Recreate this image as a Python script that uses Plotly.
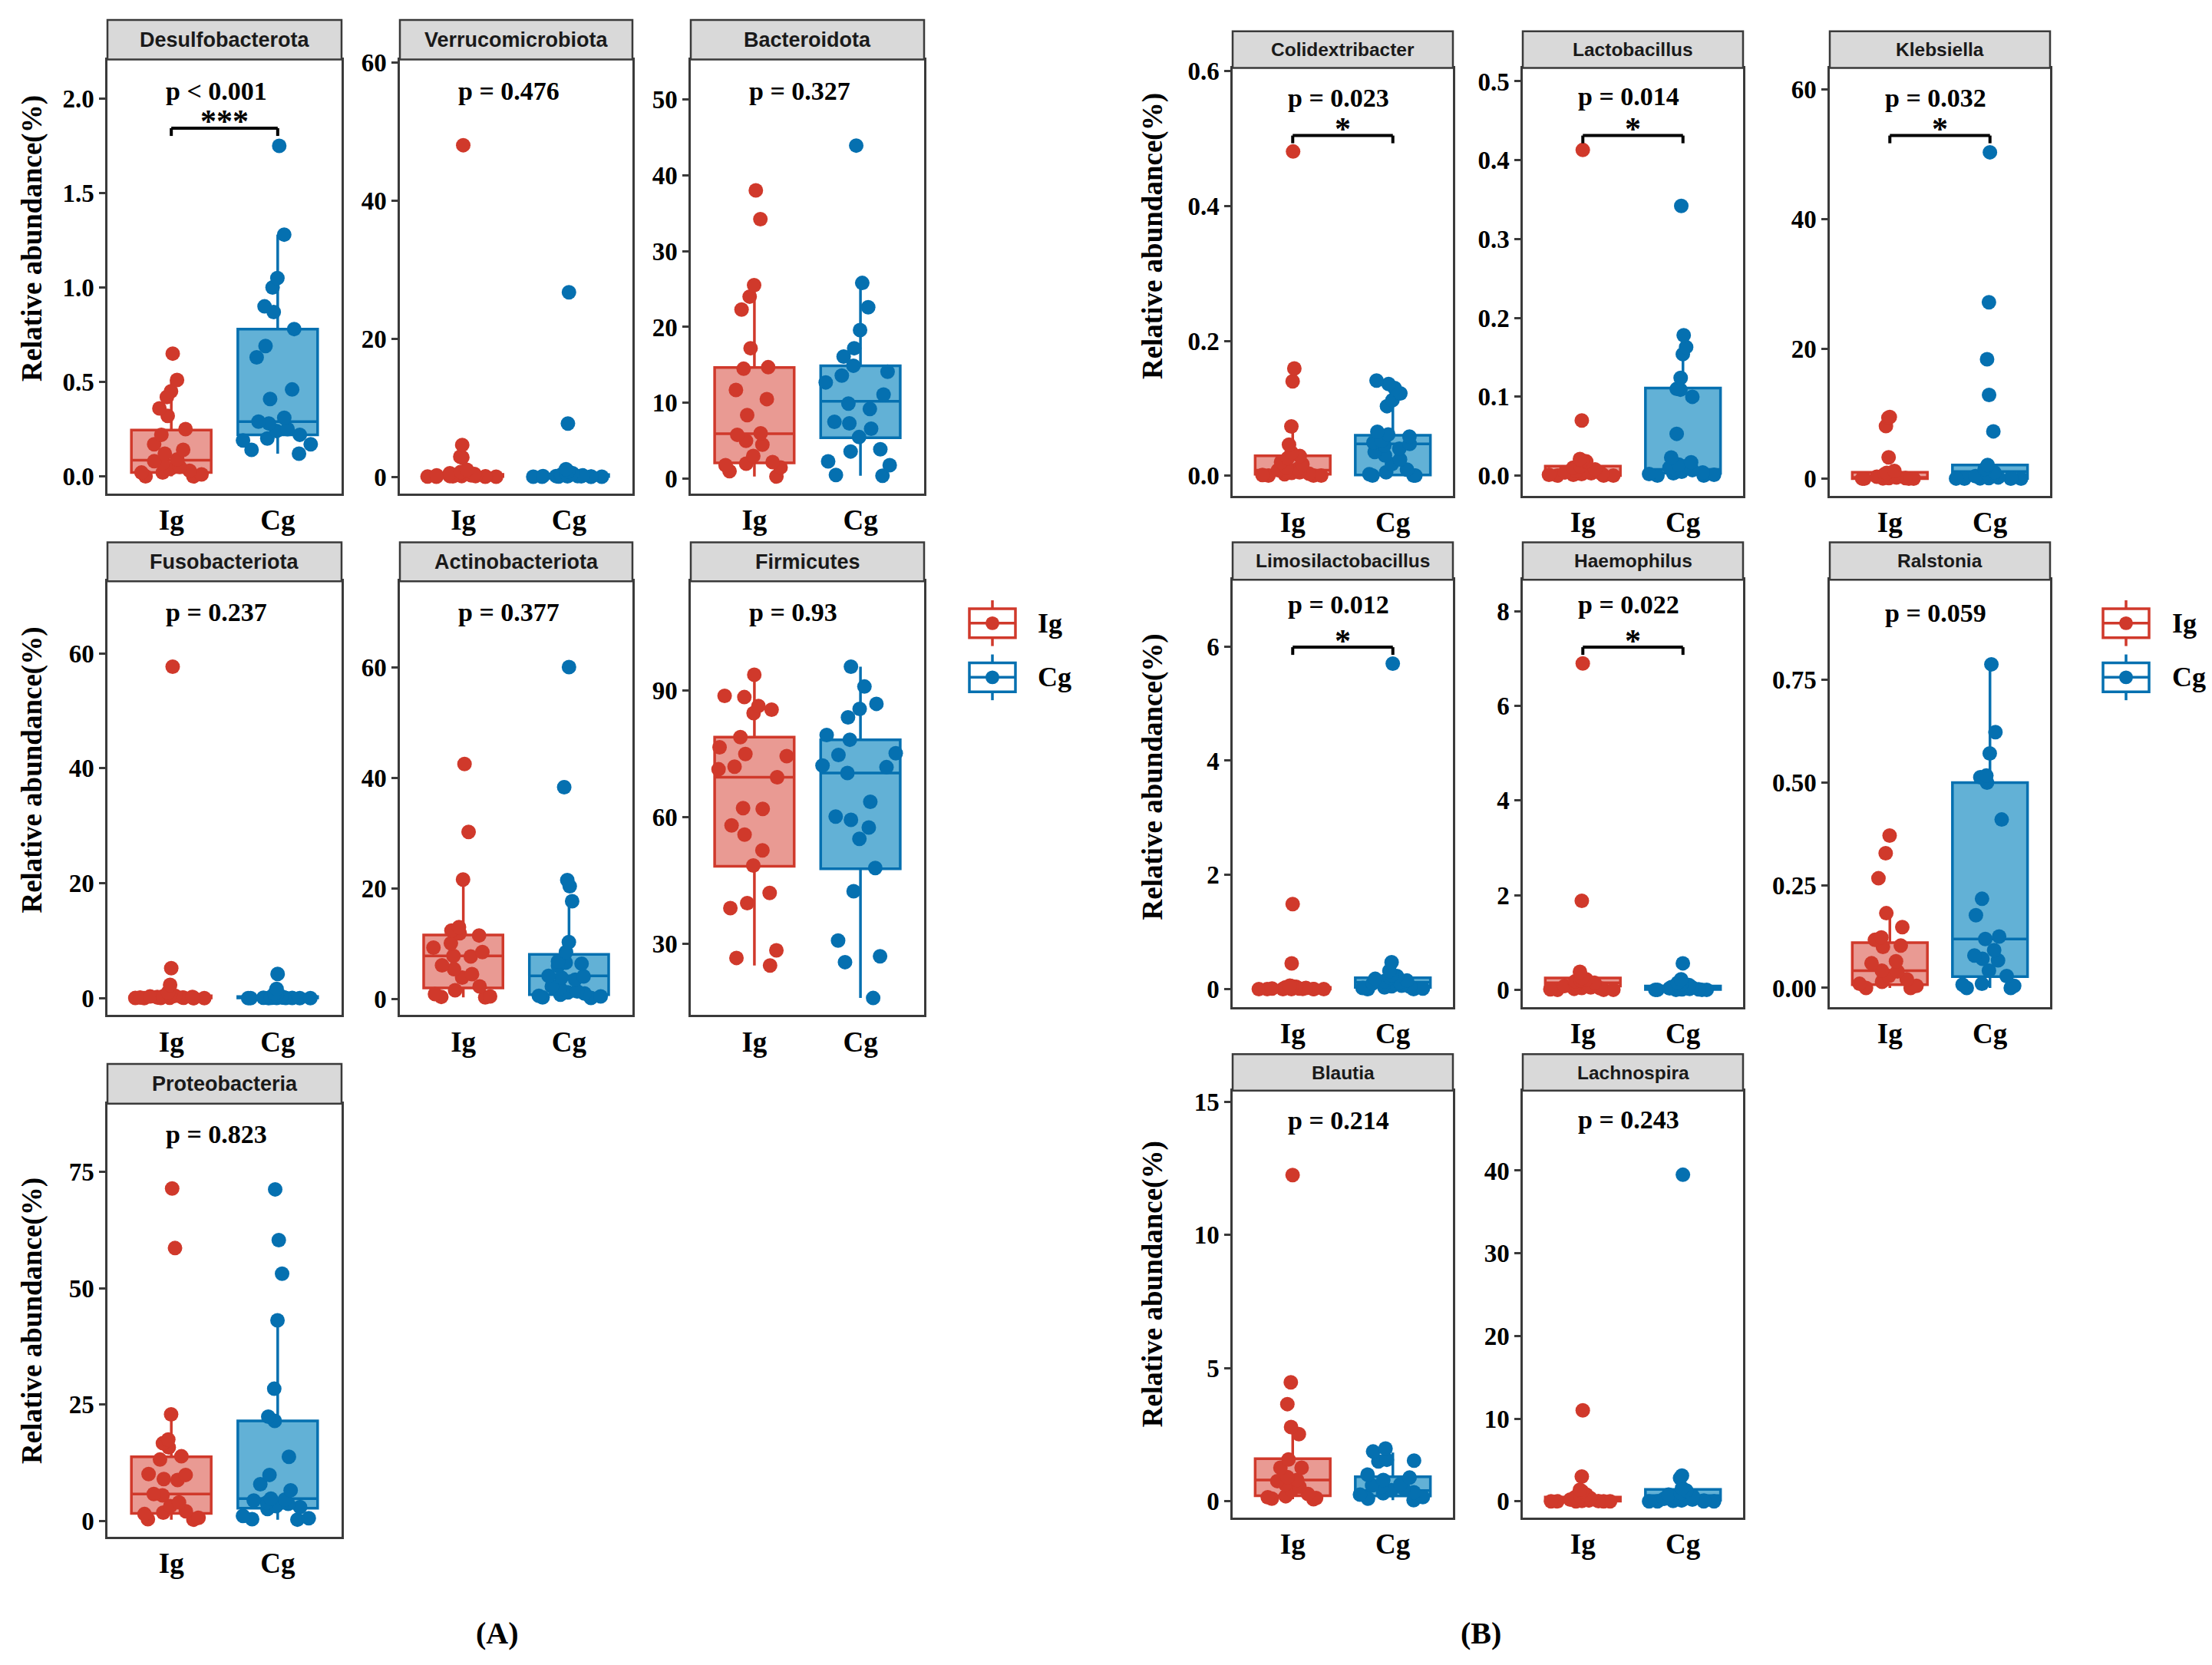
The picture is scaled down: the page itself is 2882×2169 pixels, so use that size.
import plotly.graph_objects as go

W, H = 2882, 2169

GROUPS = ["Ig", "Cg"]

# ---- panel A : phylum level (relative abundance, %) ----
desulfo_ig = [0.65, 0.51, 0.45, 0.42, 0.36, 0.32, 0.25, 0.22, 0.17, 0.14, 0.12, 0.09, 0.08, 0.07, 0.05, 0.04, 0.03, 0.02, 0.02, 0.01, 0.0, 0.0]
desulfo_cg = [1.75, 1.28, 1.05, 1.00, 0.90, 0.87, 0.78, 0.69, 0.63, 0.46, 0.41, 0.31, 0.29, 0.28, 0.25, 0.24, 0.22, 0.20, 0.19, 0.17, 0.14, 0.12]
verruco_ig = [48.0, 4.6, 2.9, 2.8, 1.0, 0.7, 0.5, 0.4, 0.3, 0.2, 0.2, 0.1, 0.1, 0.1, 0.05, 0.05, 0.02, 0.01, 0.0, 0.0]
verruco_cg = [26.7, 7.7, 1.1, 0.8, 0.5, 0.4, 0.3, 0.2, 0.2, 0.1, 0.1, 0.1, 0.05, 0.05, 0.03, 0.02, 0.01, 0.0, 0.0, 0.0]
bactero_ig = [38.0, 34.2, 25.5, 24.0, 22.3, 17.2, 14.7, 14.5, 11.7, 10.5, 8.4, 6.0, 5.8, 5.0, 4.5, 3.0, 2.2, 2.0, 1.8, 1.5, 1.0, 0.3]
bactero_cg = [43.9, 25.8, 22.6, 19.6, 17.2, 16.1, 14.9, 14.1, 13.6, 12.7, 11.1, 9.9, 9.2, 7.5, 7.3, 6.6, 5.5, 3.9, 3.6, 2.3, 1.8, 0.5, 0.4]
fuso_ig = [57.7, 5.2, 2.3, 1.0, 0.6, 0.4, 0.3, 0.3, 0.2, 0.2, 0.1, 0.1, 0.1, 0.05, 0.05, 0.03, 0.02, 0.01, 0.0, 0.0, 0.0]
fuso_cg = [4.2, 1.6, 0.8, 0.5, 0.3, 0.2, 0.2, 0.1, 0.1, 0.1, 0.05, 0.05, 0.03, 0.02, 0.01, 0.0, 0.0, 0.0, 0.0, 0.0]
actino_ig = [42.5, 30.2, 21.6, 13.0, 12.4, 11.9, 11.5, 10.1, 9.3, 8.5, 7.8, 7.7, 6.1, 5.4, 4.5, 3.9, 2.3, 1.6, 0.9, 0.5, 0.4, 0.3]
actino_cg = [60.0, 38.3, 21.5, 20.4, 17.7, 10.3, 8.5, 6.8, 6.6, 6.4, 6.0, 4.2, 4.1, 3.9, 3.5, 2.3, 2.0, 1.4, 1.2, 1.0, 0.8, 0.6, 0.5, 0.3, 0.2]
firmi_ig = [93.8, 88.8, 88.5, 86.4, 85.5, 84.7, 79.0, 76.6, 75.0, 74.5, 72.0, 71.4, 69.5, 62.2, 62.0, 58.1, 55.9, 52.2, 48.6, 42.1, 39.7, 38.5, 28.5, 26.7, 24.9]
firmi_cg = [95.7, 91.0, 86.9, 85.7, 83.7, 79.5, 78.4, 75.2, 74.8, 72.3, 71.9, 70.5, 63.7, 60.2, 59.4, 57.6, 54.9, 48.0, 42.5, 30.8, 27.1, 25.7, 17.2]
proteo_ig = [71.4, 58.6, 22.9, 17.5, 16.7, 15.8, 13.9, 13.2, 10.1, 9.9, 9.0, 8.8, 5.8, 5.5, 4.0, 3.2, 2.1, 1.8, 1.5, 0.7, 0.4, 0.3]
proteo_cg = [71.2, 60.3, 53.1, 43.1, 28.4, 22.4, 21.5, 13.8, 9.9, 7.9, 6.6, 4.8, 4.6, 4.4, 4.0, 3.7, 3.2, 3.0, 2.6, 1.1, 0.6, 0.4, 0.3]

# ---- panel B : genus level ----
colid_ig = [0.481, 0.159, 0.140, 0.073, 0.046, 0.034, 0.029, 0.026, 0.020, 0.017, 0.012, 0.010, 0.008, 0.006, 0.005, 0.004, 0.003, 0.002, 0.001, 0.0, 0.0, 0.0]
colid_cg = [0.141, 0.136, 0.130, 0.122, 0.112, 0.103, 0.065, 0.061, 0.058, 0.052, 0.049, 0.047, 0.045, 0.040, 0.035, 0.030, 0.024, 0.017, 0.009, 0.005, 0.002, 0.0, 0.0, 0.0]
lacto_ig = [0.413, 0.070, 0.021, 0.019, 0.018, 0.012, 0.010, 0.008, 0.006, 0.005, 0.004, 0.003, 0.003, 0.002, 0.002, 0.001, 0.001, 0.0, 0.0, 0.0]
lacto_cg = [0.342, 0.178, 0.163, 0.154, 0.124, 0.110, 0.109, 0.100, 0.053, 0.023, 0.017, 0.014, 0.012, 0.010, 0.008, 0.007, 0.005, 0.004, 0.003, 0.002, 0.001, 0.0, 0.0]
kleb_ig = [9.5, 9.4, 8.1, 3.3, 1.2, 0.9, 0.7, 0.5, 0.4, 0.3, 0.3, 0.2, 0.2, 0.1, 0.1, 0.05, 0.02, 0.0, 0.0, 0.0]
kleb_cg = [50.3, 27.2, 18.4, 12.9, 7.3, 2.1, 1.5, 1.0, 0.8, 0.5, 0.4, 0.3, 0.2, 0.1, 0.1, 0.05, 0.02, 0.0, 0.0, 0.0]
limo_ig = [1.49, 0.45, 0.06, 0.05, 0.04, 0.03, 0.03, 0.02, 0.02, 0.01, 0.01, 0.01, 0.005, 0.0, 0.0, 0.0, 0.0, 0.0, 0.0, 0.0]
limo_cg = [5.70, 0.47, 0.32, 0.25, 0.23, 0.20, 0.18, 0.15, 0.14, 0.12, 0.10, 0.08, 0.06, 0.05, 0.04, 0.03, 0.02, 0.01, 0.0, 0.0]
haemo_ig = [6.9, 1.88, 0.38, 0.25, 0.22, 0.20, 0.18, 0.15, 0.12, 0.10, 0.08, 0.06, 0.05, 0.04, 0.03, 0.02, 0.01, 0.0, 0.0, 0.0]
haemo_cg = [0.56, 0.22, 0.15, 0.12, 0.10, 0.08, 0.06, 0.05, 0.04, 0.03, 0.03, 0.02, 0.02, 0.01, 0.01, 0.0, 0.0, 0.0, 0.0, 0.0]
ralst_ig = [0.371, 0.328, 0.267, 0.182, 0.148, 0.123, 0.117, 0.103, 0.100, 0.065, 0.060, 0.042, 0.040, 0.029, 0.021, 0.015, 0.010, 0.005, 0.0, 0.0]
ralst_cg = [0.788, 0.623, 0.571, 0.517, 0.513, 0.500, 0.410, 0.217, 0.177, 0.125, 0.119, 0.092, 0.079, 0.071, 0.067, 0.042, 0.029, 0.010, 0.008, 0.005, 0.0, 0.0]
blautia_ig = [12.25, 4.47, 3.65, 2.79, 2.52, 1.57, 1.26, 1.26, 0.91, 0.80, 0.76, 0.64, 0.55, 0.42, 0.27, 0.19, 0.15, 0.12, 0.10, 0.08]
blautia_cg = [1.98, 1.87, 1.56, 1.53, 1.50, 1.00, 0.89, 0.80, 0.64, 0.60, 0.55, 0.49, 0.42, 0.34, 0.30, 0.25, 0.16, 0.10, 0.04]
lachno_ig = [11.0, 3.0, 1.4, 1.2, 0.8, 0.6, 0.5, 0.4, 0.3, 0.2, 0.2, 0.1, 0.1, 0.05, 0.02, 0.0, 0.0, 0.0, 0.0, 0.0]
lachno_cg = [39.5, 3.1, 2.8, 1.6, 1.3, 1.0, 0.8, 0.6, 0.5, 0.4, 0.3, 0.2, 0.2, 0.1, 0.1, 0.05, 0.0, 0.0, 0.0, 0.0]

# box stats: lower whisker, Q1, median, Q3, upper whisker
desulfo_ig_box = [0.0, 0.02, 0.085, 0.245, 0.51]
desulfo_cg_box = [0.12, 0.22, 0.29, 0.78, 1.28]
verruco_ig_box = [0.0, 0.03, 0.1, 0.35, 0.8]
verruco_cg_box = [0.0, 0.02, 0.1, 0.3, 0.6]
bactero_ig_box = [0.3, 2.1, 5.95, 14.65, 25.5]
bactero_cg_box = [0.4, 5.4, 10.2, 14.9, 25.8]
fuso_ig_box = [0.0, 0.03, 0.1, 0.4, 0.9]
fuso_cg_box = [0.0, 0.01, 0.05, 0.25, 0.6]
actino_ig_box = [0.3, 2.0, 7.8, 11.6, 21.5]
actino_cg_box = [0.2, 0.8, 4.2, 8.1, 17.7]
firmi_ig_box = [24.9, 48.4, 69.5, 79.0, 93.8]
firmi_cg_box = [17.2, 47.8, 70.5, 78.4, 95.7]
proteo_ig_box = [0.3, 1.65, 5.8, 13.8, 22.9]
proteo_cg_box = [0.3, 2.75, 4.8, 21.5, 43.1]
colid_ig_box = [0.0, 0.002, 0.008, 0.0295, 0.069]
colid_cg_box = [0.0, 0.001, 0.047, 0.060, 0.139]
lacto_ig_box = [0.0, 0.0, 0.004, 0.012, 0.019]
lacto_cg_box = [0.0, 0.003, 0.008, 0.111, 0.179]
kleb_ig_box = [0.0, 0.02, 0.2, 1.0, 1.3]
kleb_cg_box = [0.0, 0.05, 1.1, 2.1, 2.1]
limo_ig_box = [0.0, 0.0, 0.01, 0.03, 0.06]
limo_cg_box = [0.0, 0.03, 0.12, 0.2, 0.47]
haemo_ig_box = [0.0, 0.08, 0.15, 0.25, 0.38]
haemo_cg_box = [0.0, 0.005, 0.03, 0.08, 0.15]
ralst_ig_box = [0.0, 0.008, 0.042, 0.11, 0.18]
ralst_cg_box = [0.0, 0.0275, 0.119, 0.50, 0.788]
blautia_ig_box = [0.08, 0.21, 0.8, 1.6, 2.67]
blautia_cg_box = [0.04, 0.2, 0.4, 0.92, 1.83]
lachno_ig_box = [0.0, 0.02, 0.2, 0.5, 1.2]
lachno_cg_box = [0.0, 0.14, 0.7, 1.44, 3.0]

# ---- look ----
LINE = {"Ig": "#D0392B", "Cg": "#0570B0"}
FILL = {"Ig": "#E99A93", "Cg": "#62B1D6"}
BORDER = "#3A3A3A"
SERIF = "Liberation Serif"
SANS = "Liberation Sans"

# pixel layout of the facets: (left, right) and (strip top, plot top, plot bottom)
A_COLS = [(140, 445), (521, 824), (900, 1204)]
A_ROWS = [(21, 73, 642), (706, 757, 1326), (1390, 1442, 2010)]
B_COLS = [(1606, 1893), (1984, 2271), (2384, 2671)]
B_ROWS = [(36, 84, 645), (706, 755, 1315), (1377, 1425, 1985)]
Y_SHIFT = 9  # whole page sits a little higher

panels = [
    # title, ig, cg, ig box, cg box, p label, stars, col, row, y range, dtick, fmt, p_y, strip font
    ("Desulfobacterota", desulfo_ig, desulfo_cg, desulfo_ig_box, desulfo_cg_box, "p &lt; 0.001", "***", A_COLS[0], A_ROWS[0], [-0.091, 2.207], 0.5, ".1f", 0.927, 27),
    ("Verrucomicrobiota", verruco_ig, verruco_cg, verruco_ig_box, verruco_cg_box, "p = 0.476", None, A_COLS[1], A_ROWS[0], [-2.43, 60.4], 20, "d", 0.927, 27),
    ("Bacteroidota", bactero_ig, bactero_cg, bactero_ig_box, bactero_cg_box, "p = 0.327", None, A_COLS[2], A_ROWS[0], [-1.94, 55.23], 10, "d", 0.927, 27),
    ("Fusobacteriota", fuso_ig, fuso_cg, fuso_ig_box, fuso_cg_box, "p = 0.237", None, A_COLS[0], A_ROWS[1], [-2.98, 72.57], 20, "d", 0.929, 27),
    ("Actinobacteriota", actino_ig, actino_cg, actino_ig_box, actino_cg_box, "p = 0.377", None, A_COLS[1], A_ROWS[1], [-2.91, 75.52], 20, "d", 0.929, 27),
    ("Firmicutes", firmi_ig, firmi_cg, firmi_ig_box, firmi_cg_box, "p = 0.93", None, A_COLS[2], A_ROWS[1], [13.13, 115.95], 30, "d", 0.929, 27),
    ("Proteobacteria", proteo_ig, proteo_cg, proteo_ig_box, proteo_cg_box, "p = 0.823", None, A_COLS[0], A_ROWS[2], [-3.4, 89.6], 25, "d", 0.93, 27),
    ("Colidextribacter", colid_ig, colid_cg, colid_ig_box, colid_cg_box, "p = 0.023", "*", B_COLS[0], B_ROWS[0], [-0.030, 0.605], 0.2, ".1f", 0.93, 24.5),
    ("Lactobacillus", lacto_ig, lacto_cg, lacto_ig_box, lacto_cg_box, "p = 0.014", "*", B_COLS[1], B_ROWS[0], [-0.0256, 0.517], 0.1, ".1f", 0.934, 24.5),
    ("Klebsiella", kleb_ig, kleb_cg, kleb_ig_box, kleb_cg_box, "p = 0.032", "*", B_COLS[2], B_ROWS[0], [-2.64, 63.3], 20, "d", 0.93, 24.5),
    ("Limosilactobacillus", limo_ig, limo_cg, limo_ig_box, limo_cg_box, "p = 0.012", "*", B_COLS[0], B_ROWS[1], [-0.31, 7.17], 2, "d", 0.942, 24.5),
    ("Haemophilus", haemo_ig, haemo_cg, haemo_ig_box, haemo_cg_box, "p = 0.022", "*", B_COLS[1], B_ROWS[1], [-0.36, 8.67], 2, "d", 0.942, 24.5),
    ("Ralstonia", ralst_ig, ralst_cg, ralst_ig_box, ralst_cg_box, "p = 0.059", None, B_COLS[2], B_ROWS[1], [-0.046, 0.994], 0.25, ".2f", 0.922, 24.5),
    ("Blautia", blautia_ig, blautia_cg, blautia_ig_box, blautia_cg_box, "p = 0.214", None, B_COLS[0], B_ROWS[2], [-0.62, 15.42], 5, "d", 0.93, 24.5),
    ("Lachnospira", lachno_ig, lachno_cg, lachno_ig_box, lachno_cg_box, "p = 0.243", None, B_COLS[1], B_ROWS[2], [-2.0, 49.67], 10, "d", 0.932, 24.5),
]


def px(x):
    return x / W


def py(y):
    return 1 - (y - Y_SHIFT) / H


fig = go.Figure()
shapes = []
annotations = []
axes = {}

for i, (title, ig, cg, ig_box, cg_box, ptxt, stars, col, row, yr, dtick, fmt, p_y, sfont) in enumerate(panels):
    n = i + 1
    xa = "x" if n == 1 else f"x{n}"
    ya = "y" if n == 1 else f"y{n}"
    for g, pts, box in (("Ig", ig, ig_box), ("Cg", cg, cg_box)):
        # box drawn from the stats
        fig.add_trace(go.Box(
            x=[g], lowerfence=[box[0]], q1=[box[1]], median=[box[2]], q3=[box[3]], upperfence=[box[4]],
            orientation="v", boxpoints=False, width=0.75, whiskerwidth=0,
            fillcolor=FILL[g], line=dict(color=LINE[g], width=3.5),
            xaxis=xa, yaxis=ya, showlegend=False, hoverinfo="skip"))
        # jittered samples on top, the box itself kept invisible
        fig.add_trace(go.Box(
            x=[g] * len(pts), y=pts, orientation="v", boxpoints="all", jitter=1.0, pointpos=0,
            width=0.8, whiskerwidth=0, fillcolor="rgba(0,0,0,0)", line=dict(color="rgba(0,0,0,0)", width=0),
            marker=dict(color=LINE[g], size=19, line=dict(width=0)),
            xaxis=xa, yaxis=ya, showlegend=False, hoverinfo="skip"))

    axes["xaxis" if n == 1 else f"xaxis{n}"] = dict(
        domain=[px(col[0]), px(col[1])], anchor=ya, type="category",
        categoryorder="array", categoryarray=GROUPS, range=[-0.6, 1.6],
        showline=True, mirror=True, linecolor=BORDER, linewidth=2.5,
        ticks="", showgrid=False, zeroline=False, ticklabelstandoff=0,
        tickfont=dict(family=SERIF, size=37, color="black", weight="bold"))
    axes["yaxis" if n == 1 else f"yaxis{n}"] = dict(
        domain=[py(row[2]), py(row[1])], anchor=xa, range=yr,
        tickmode="linear", tick0=0, dtick=dtick, tickformat=fmt,
        showline=True, mirror=True, linecolor=BORDER, linewidth=2.5,
        ticks="outside", ticklen=8, tickwidth=3, tickcolor=BORDER,
        showgrid=False, zeroline=False,
        tickfont=dict(family=SERIF, size=33, color="black", weight="bold"))

    # facet strip
    shapes.append(dict(type="rect", xref="paper", yref="paper",
                       x0=px(col[0]), x1=px(col[1]), y0=py(row[1]), y1=py(row[0]),
                       fillcolor="#D9D9D9", line=dict(color=BORDER, width=2.5)))
    annotations.append(dict(text=title, xref="paper", yref="paper",
                            x=px((col[0] + col[1]) / 2), y=py((row[0] + row[1]) / 2),
                            showarrow=False, xanchor="center", yanchor="middle",
                            font=dict(family=SANS, size=sfont, color="#1A1A1A", weight="bold")))
    # p value
    annotations.append(dict(text=ptxt, xref=f"{xa} domain", yref=f"{ya} domain",
                            x=0.243, y=p_y, xanchor="left", yanchor="middle", showarrow=False,
                            font=dict(family=SERIF, size=34, color="black", weight="bold")))
    # significance bracket
    if stars:
        xl, xr = 0.6 / 2.2, 1.6 / 2.2
        yb, yt = 0.824, 0.842
        for x0, y0, x1, y1 in ((xl, yt, xr, yt), (xl, yb, xl, yt), (xr, yb, xr, yt)):
            shapes.append(dict(type="line", xref=f"{xa} domain", yref=f"{ya} domain",
                               x0=x0, y0=y0, x1=x1, y1=y1, line=dict(color="black", width=4)))
        annotations.append(dict(text=stars, xref=f"{xa} domain", yref=f"{ya} domain",
                                x=0.5, y=0.857, xanchor="center", yanchor="middle", showarrow=False,
                                font=dict(family=SERIF, size=42, color="black", weight="bold")))

# y-axis titles (first column of each row)
for xt, yt in ((42, 308), (42, 1005), (42, 1727), (1502, 305), (1502, 1014), (1502, 1679)):
    annotations.append(dict(text="Relative abundance(%)", xref="paper", yref="paper",
                            x=px(xt), y=py(yt), textangle=-90, showarrow=False,
                            xanchor="center", yanchor="middle",
                            font=dict(family=SERIF, size=37, color="black", weight="bold")))

# hand-drawn legends (box glyph with a dot, like ggplot keys)
for cx, tx in ((1293, 1350), (2770, 2828)):
    for g, cy in (("Ig", 812), ("Cg", 883)):
        c = LINE[g]
        shapes.append(dict(type="line", xref="paper", yref="paper", x0=px(cx), x1=px(cx),
                           y0=py(cy - 30), y1=py(cy + 30), line=dict(color=c, width=3.5)))
        shapes.append(dict(type="rect", xref="paper", yref="paper", x0=px(cx - 30), x1=px(cx + 30),
                           y0=py(cy - 19), y1=py(cy + 19), fillcolor="white", line=dict(color=c, width=3.5)))
        shapes.append(dict(type="line", xref="paper", yref="paper", x0=px(cx - 30), x1=px(cx + 30),
                           y0=py(cy), y1=py(cy), line=dict(color=c, width=3.5)))
        shapes.append(dict(type="circle", xref="paper", yref="paper", x0=px(cx - 9), x1=px(cx + 9),
                           y0=py(cy - 9), y1=py(cy + 9), fillcolor=c, line=dict(color=c, width=0)))
        annotations.append(dict(text=g, xref="paper", yref="paper", x=px(tx), y=py(cy),
                                xanchor="left", yanchor="middle", showarrow=False,
                                font=dict(family=SERIF, size=36, color="black", weight="bold")))

# panel labels
for lab, xl in (("(A)", 648), ("(B)", 1929)):
    annotations.append(dict(text=lab, xref="paper", yref="paper", x=px(xl), y=py(2136),
                            xanchor="center", yanchor="middle", showarrow=False,
                            font=dict(family=SERIF, size=40, color="black", weight="bold")))

fig.update_layout(
    width=W, height=H, autosize=False,
    margin=dict(l=0, r=0, t=0, b=0, pad=0),
    paper_bgcolor="white", plot_bgcolor="white",
    boxmode="overlay", showlegend=False,
    shapes=shapes, annotations=annotations,
    **axes,
)

fig.write_html("out.html", config={"displayModeBar": False})

# drop the browser's default body margin so the figure sits at the page origin
with open("out.html", encoding="utf-8") as f:
    page = f.read()
page = page.replace("<head>", "<head><style>html,body{margin:0;padding:0;overflow:hidden;}</style>", 1)
with open("out.html", "w", encoding="utf-8") as f:
    f.write(page)
